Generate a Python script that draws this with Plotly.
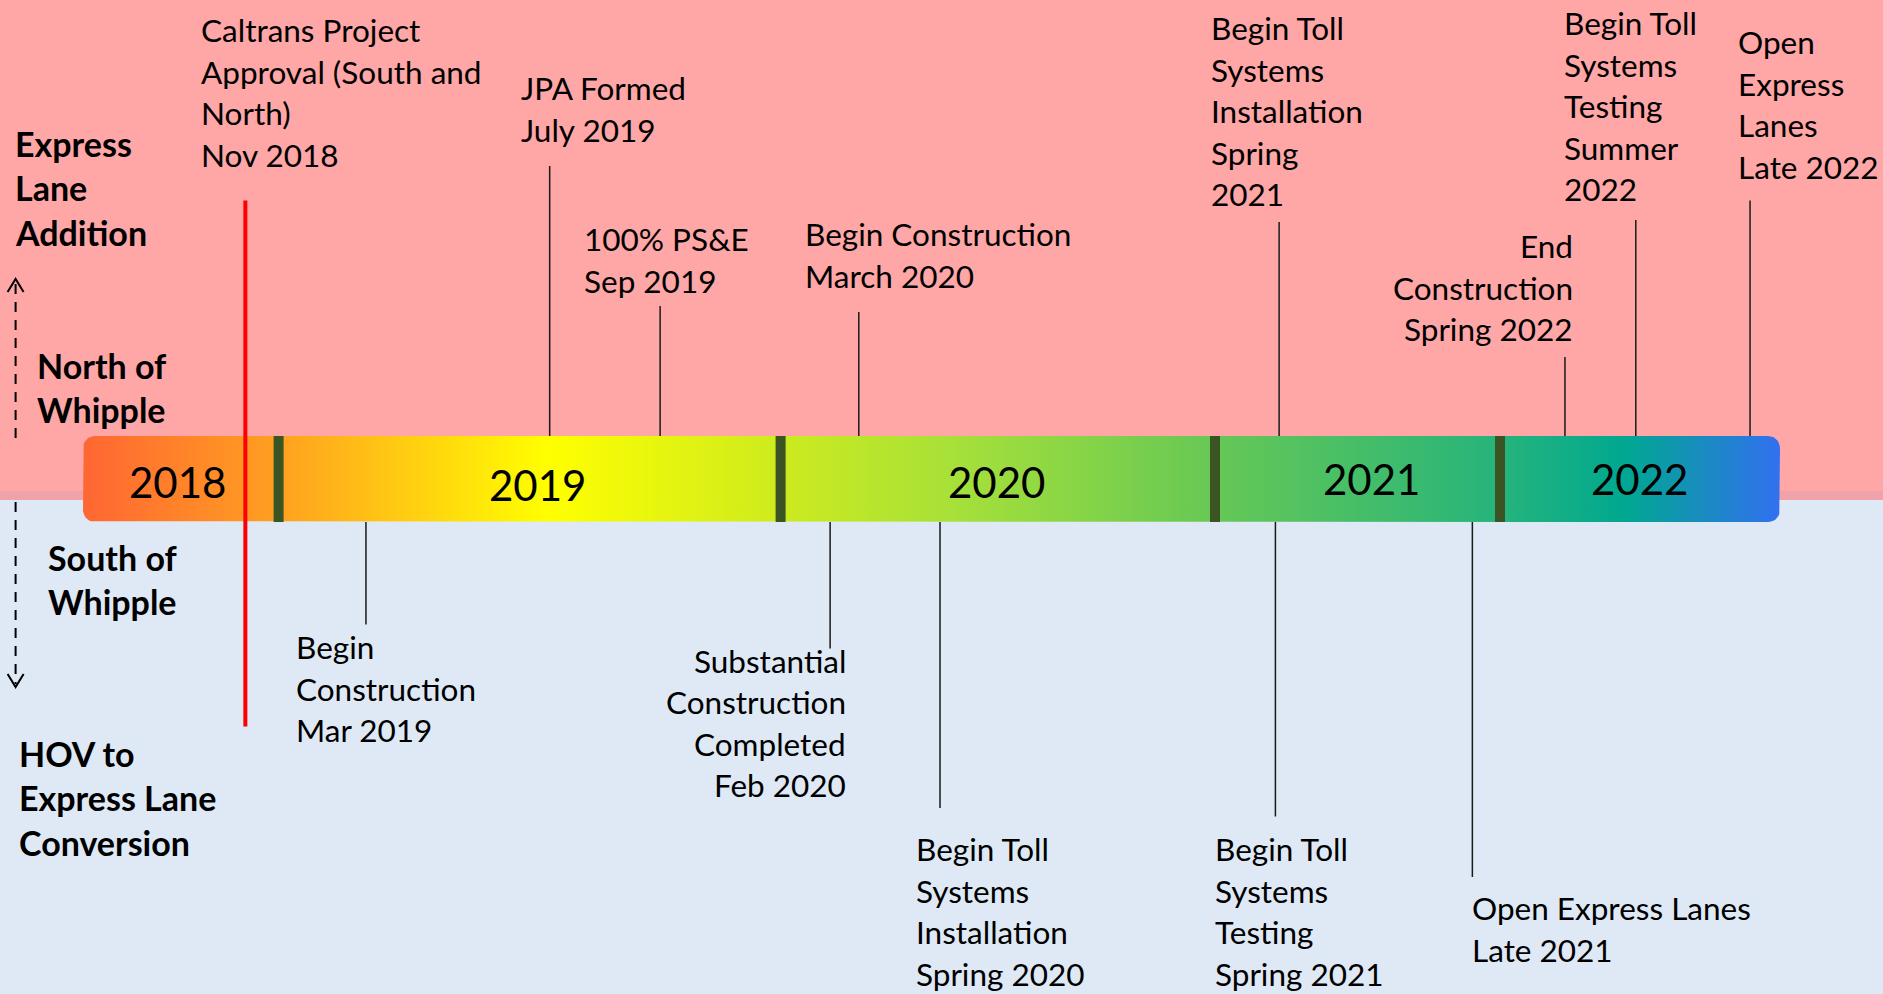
import numpy as np
import plotly.graph_objects as go

W, H = 1883, 994

# ---------------- data ----------------
years = ["2018", "2019", "2020", "2021", "2022"]
year_start = [2018, 2019, 2020, 2021, 2022, 2023]

above_labels = [
    ["Caltrans Project", "Approval (South and", "North)", "Nov 2018"],
    ["JPA Formed", "July 2019"],
    ["100% PS&E", "Sep 2019"],
    ["Begin Construction", "March 2020"],
    ["Begin Toll", "Systems", "Installation", "Spring", "2021"],
    ["End", "Construction", "Spring 2022"],
    ["Begin Toll", "Systems", "Testing", "Summer", "2022"],
    ["Open", "Express", "Lanes", "Late 2022"],
]
above_dates = [2018.83, 2019.54, 2019.76, 2020.18, 2021.225, 2022.232, 2022.485, 2022.893]

below_labels = [
    ["Begin", "Construction", "Mar 2019"],
    ["Substantial", "Construction", "Completed", "Feb 2020"],
    ["Begin Toll", "Systems", "Installation", "Spring 2020"],
    ["Begin Toll", "Systems", "Testing", "Spring 2021"],
    ["Open Express Lanes", "Late 2021"],
]
below_dates = [2019.174, 2020.114, 2020.367, 2021.212, 2021.903]

side_labels_top = [["Express", "Lane", "Addition"], ["North of", "Whipple"]]
side_labels_bottom = [["South of", "Whipple"], ["HOV to", "Express Lane", "Conversion"]]

# ---------------- layout geometry (pixels) ----------------
year_px = [83, 278.6, 780.6, 1215, 1500, 1780]   # drawn position of each year boundary
bar_top, bar_bot = 436, 522
bar_mid = (bar_top + bar_bot) / 2
LS = 41.5  # line spacing

# per-event layout: (stem end y, first text line y, text x offset, anchor)
above_geo = [
    (200.5, 30, -45, "left"),
    (166, 88, -30, "left"),
    (306, 239, -77, "left"),
    (312, 234, -55, "left"),
    (222, 28, -69, "left"),
    (357, 246, 9.5, "right"),
    (220, 23, -73, "left"),
    (200.5, 42, -13, "left"),
]
below_geo = [
    (624.5, 647, -71, "left"),
    (648.5, 660.5, 17, "right"),
    (808, 849, -25, "left"),
    (816.5, 849, -61, "left"),
    (877, 908, -1, "left"),
]


def tx(date):
    return float(np.interp(date, year_start, year_px))


FONT = "Lato"
TSIZE = 31.5
fig = go.Figure()

# backgrounds
shapes = [
    dict(type="rect", xref="x", yref="y", x0=0, x1=W, y0=0, y1=491,
         fillcolor="#FFA6A6", line_width=0, layer="below"),
    dict(type="rect", xref="x", yref="y", x0=0, x1=W, y0=491, y1=500,
         fillcolor="#EFA2AA", line_width=0, layer="below"),
    dict(type="rect", xref="x", yref="y", x0=0, x1=W, y0=500, y1=H,
         fillcolor="#DEE9F5", line_width=0, layer="below"),
]

# gradient bar with rounded corners
x0b, x1b = tx(year_start[0]), tx(year_start[-1])
r = 12
pts = []
for cx, cy, a0, a1 in [(x1b - r, bar_top + r, -90, 0), (x1b - r, bar_bot - r, 0, 90),
                       (x0b + r, bar_bot - r, 90, 180), (x0b + r, bar_top + r, 180, 270)]:
    for a in np.linspace(np.radians(a0), np.radians(a1), 10):
        pts.append((cx + r * np.cos(a), cy + r * np.sin(a)))
bx = [p[0] for p in pts] + [pts[0][0]]
by = [p[1] for p in pts] + [pts[0][1]]


def norm(px):
    return (px - x0b) / (x1b - x0b)


grad = [
    [0.0, "#FF6633"],
    [norm(278), "#FFA020"],
    [norm(548), "#FFFF00"],
    [norm(780), "#CDEB1E"],
    [norm(960), "#A5E03A"],
    [norm(1214), "#66C855"],
    [norm(1500), "#26B47B"],
    [norm(1624), "#00A890"],
    [1.0, "#3270F0"],
]
fig.add_trace(go.Scatter(x=bx, y=by, mode="lines", fill="toself",
                         line=dict(width=0, color="rgba(0,0,0,0)"),
                         fillgradient=dict(type="horizontal", colorscale=grad),
                         hoverinfo="skip", showlegend=False))

# year dividers
for ys in year_start[1:-1]:
    xd = tx(ys)
    shapes.append(dict(type="rect", xref="x", yref="y", x0=xd - 5, x1=xd + 5,
                       y0=bar_top, y1=bar_bot, fillcolor="#3A5523", line_width=0, layer="above"))

# leader lines
lx, ly = [], []
for d, g in zip(above_dates[1:], above_geo[1:]):
    lx += [tx(d), tx(d), None]
    ly += [bar_top, g[0], None]
for d, g in zip(below_dates, below_geo):
    lx += [tx(d), tx(d), None]
    ly += [bar_bot, g[0], None]
fig.add_trace(go.Scatter(x=lx, y=ly, mode="lines", line=dict(color="#1a1a1a", width=1.5),
                         hoverinfo="skip", showlegend=False))

# red marker line (Caltrans approval)
xr = tx(above_dates[0])
fig.add_trace(go.Scatter(x=[xr, xr], y=[above_geo[0][0], 726.6], mode="lines",
                         line=dict(color="#FF0000", width=4), hoverinfo="skip", showlegend=False))

annotations = []


def add_lines(lines, x, y0, anchor, size=TSIZE, weight="normal", spacing=LS):
    for i, t in enumerate(lines):
        annotations.append(dict(x=x, y=y0 + i * spacing, xref="x", yref="y", text=t,
                                showarrow=False, xanchor=anchor, yanchor="middle",
                                borderpad=0,
                                font=dict(family=FONT, size=size, color="black", weight=weight)))


for lab, d, g in zip(above_labels, above_dates, above_geo):
    add_lines(lab, tx(d) + g[2], g[1], g[3])
for lab, d, g in zip(below_labels, below_dates, below_geo):
    add_lines(lab, tx(d) + g[2], g[1], g[3])

# year labels
year_dy = [2.5, 6, 2.5, 0, 0]
year_dx = [-3, 8, -1, 14, -1]
for i, y in enumerate(years):
    cx = (year_px[i] + year_px[i + 1]) / 2 + year_dx[i]
    annotations.append(dict(x=cx, y=bar_mid + year_dy[i], xref="x", yref="y", text=y,
                            showarrow=False, xanchor="center", yanchor="middle",
                            font=dict(family=FONT, size=42, color="black")))

# side labels
BS = 34
add_lines(side_labels_top[0], 14, 143, "left", size=BS, weight="bold", spacing=44.5)
add_lines(side_labels_top[1], 36, 365, "left", size=BS, weight="bold", spacing=44.5)
add_lines(side_labels_bottom[0], 47, 557, "left", size=BS, weight="bold", spacing=44.5)
add_lines(side_labels_bottom[1], 18, 753, "left", size=BS, weight="bold", spacing=44.5)

# dashed arrows
ax = 15.6
fig.add_trace(go.Scatter(x=[ax, ax], y=[438, 282], mode="lines",
                         line=dict(color="black", width=2, dash="10px,8px"),
                         hoverinfo="skip", showlegend=False))
fig.add_trace(go.Scatter(x=[ax - 8, ax, ax + 8], y=[292, 279, 292], mode="lines",
                         line=dict(color="black", width=2), hoverinfo="skip", showlegend=False))
fig.add_trace(go.Scatter(x=[ax, ax], y=[502, 684], mode="lines",
                         line=dict(color="black", width=2, dash="10px,8px"),
                         hoverinfo="skip", showlegend=False))
fig.add_trace(go.Scatter(x=[ax - 8, ax, ax + 8], y=[674, 687, 674], mode="lines",
                         line=dict(color="black", width=2), hoverinfo="skip", showlegend=False))

fig.update_layout(
    width=W, height=H, margin=dict(l=0, r=0, t=0, b=0),
    paper_bgcolor="#DEE9F5", plot_bgcolor="#DEE9F5",
    xaxis=dict(range=[0, W], visible=False, fixedrange=True),
    yaxis=dict(range=[H, 0], visible=False, fixedrange=True),
    shapes=shapes, annotations=annotations, showlegend=False,
)

fig.write_html("out.html", config={"displayModeBar": False},
               post_script="document.body.style.margin='0';document.body.style.overflow='hidden';")
